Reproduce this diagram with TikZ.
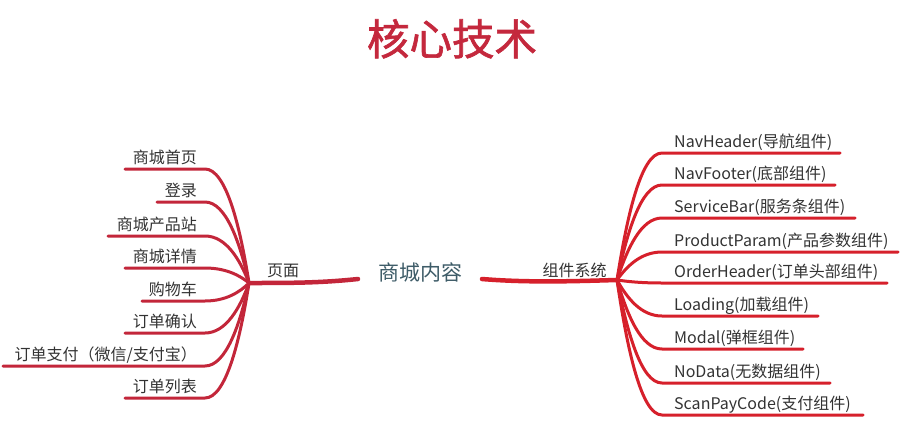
\documentclass[tikz,border=0pt]{standalone}
\usepackage{fontspec}
\setmainfont{Noto Sans CJK SC}
\newfontfamily\titlefont{Noto Sans CJK SC}[FakeBold=1.5]
\definecolor{titlered}{HTML}{C4283D}
\definecolor{lred}{HTML}{C3263A}
\definecolor{rred}{HTML}{D6202B}
\definecolor{txt}{HTML}{333333}
\definecolor{ctr}{HTML}{3E5C68}
\begin{document}
\begin{tikzpicture}[x=1pt,y=-1pt,
  leaf/.style={inner sep=0pt,text=txt,font=\fontsize{16}{19}\selectfont},
  lbranch/.style={draw=lred,line width=3pt,line cap=round},
  rbranch/.style={draw=rred,line width=3pt,line cap=round},
  lmain/.style={draw=lred,line width=4.5pt,line cap=round},
  rmain/.style={draw=rred,line width=4.5pt,line cap=round}]
\useasboundingbox (0,0) rectangle (904,442);
\fill[white] (0,0) rectangle (904,442);
% title
\node[inner sep=0pt,anchor=base,text=titlered,font=\fontsize{42.5}{50}\titlefont] (title) at (452,55) {核心技术};
% centre
\node[inner sep=0pt,anchor=base,text=ctr,font=\fontsize{21}{25}\selectfont] (centre) at (420.5,280) {商城内容};
\coordinate (cl) at (358,279);
\coordinate (cr) at (482,279);
\coordinate (hubL) at (249,283);
\coordinate (hubR) at (617,280);
\node[leaf,anchor=base] (pages) at (283,276) {页面};
\node[leaf,anchor=base] (comps) at (574.5,276) {组件系统};
\draw[lmain] (cl) .. controls (320,283) and (290,283) .. (hubL);
\draw[rmain] (cr) .. controls (530,283) and (580,281) .. (hubR);
% left leaves
\foreach \t/\y/\xs [count=\i] in {
  商城首页/169/125, 登录/202/157, 商城产品站/236/108, 商城详情/268/125,
  购物车/301/142, 订单确认/333/125, {订单支付（微信/支付宝）}/366/3, 订单列表/398/125}{
  \node[leaf,anchor=base east] (l\i) at (197,\y-6) {\t};
  \coordinate (le\i) at (\xs,\y);
  \draw[lbranch] (hubL) .. controls (240,{(\y+283)/2}) and (226,\y) .. (205,\y) -- (le\i);
}
% right leaves
\foreach \t/\y/\xe [count=\i] in {
  NavHeader(导航组件)/153/840, NavFooter(底部组件)/185/835,
  ServiceBar(服务条组件)/218/855, ProductParam(产品参数组件)/252/898,
  OrderHeader(订单头部组件)/283/887, Loading(加载组件)/316/818,
  Modal(弹框组件)/349/803, NoData(无数据组件)/383/830,
  ScanPayCode(支付组件)/415/863}{
  \node[leaf,anchor=base west] (r\i) at (674,\y-6) {\t};
  \coordinate (re\i) at (\xe,\y);
  \draw[rbranch] (hubR) .. controls (627,{(\y+280)/2}) and (641,\y) .. (662,\y) -- (re\i);
}
\end{tikzpicture}
\end{document}
